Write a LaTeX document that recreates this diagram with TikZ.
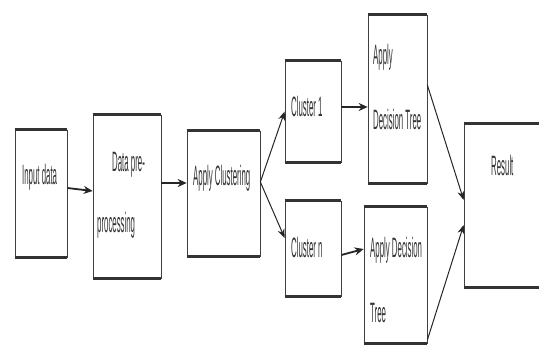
\documentclass[tikz,border=0pt]{standalone}
\usepackage{fontspec}
\newfontfamily\nf[FakeStretch=0.28]{Liberation Sans}
\usetikzlibrary{arrows.meta}
\begin{document}
\begin{tikzpicture}[x=1pt,y=-1pt,
  box/.style={draw=black!75, line width=0.7pt, inner sep=0pt},
  txt/.style={anchor=base west, inner sep=0pt, text=black!80, font=\nf\fontsize{28}{30}\selectfont},
  arr/.style={draw=black!85, line width=1.8pt, -{Stealth[length=9pt,width=8pt]}},
  arrt/.style={draw=black!85, line width=1pt, -{Stealth[length=9pt,width=7pt]}}]
\useasboundingbox (0,0) rectangle (539,347);
\fill[white] (0,0) rectangle (539,347);
% boxes
\node[box, minimum width=52pt, minimum height=127pt] (b1) at (41,193.5) {};
\node[box, minimum width=68pt, minimum height=163pt] (b2) at (127,196.5) {};
\node[box, minimum width=73pt, minimum height=125pt] (b3) at (223.5,193.5) {};
\node[box, minimum width=56pt, minimum height=101pt] (c1) at (313,111.5) {};
\node[box, minimum width=56pt, minimum height=95pt] (cn) at (313,248.5) {};
\node[box, minimum width=59pt, minimum height=168pt] (d1) at (397.5,99) {};
\node[box, minimum width=63pt, minimum height=136pt] (d2) at (395.5,275) {};
\node[box, minimum width=80pt, minimum height=163pt] (r) at (504,205.5) {};
\foreach \n in {b1,b2,b3,c1,cn,d1,d2,r}{
  \draw[line width=2.6pt, black!80] (\n.north west) -- (\n.north east);
  \draw[line width=2.6pt, black!80] (\n.south west) -- (\n.south east);
}
% texts
\node[txt] (t1) at (22,185) {Input data};
\node[txt] (t2a) at (112,172) {Data pre-};
\node[txt] (t2b) at (97,233) {processing};
\node[txt] (t3) at (193,186) {Apply Clustering};
\node[txt] (t4) at (291,117) {Cluster 1};
\node[txt] (t5) at (291,258) {Cluster n};
\node[txt] (t6a) at (373,65) {Apply};
\node[txt] (t6b) at (373,130) {Decision Tree};
\node[txt] (t7a) at (370,258) {Apply Decision};
\node[txt] (t7b) at (370,323) {Tree};
\node[txt] (t8) at (491,176) {Result};
% arrows
\draw[arr] ([yshift=5.5pt]b1.east) -- ([yshift=5.5pt]b2.west);
\draw[arr] ([yshift=13.5pt]b2.east) -- ([yshift=10.5pt]b3.west);
\draw[arrt] ([yshift=11.5pt]b3.east) -- (c1.west);
\draw[arrt] ([yshift=11.5pt]b3.east) -- ([yshift=10.5pt]cn.west);
\draw[arr] ([yshift=4.5pt]c1.east) -- ([yshift=-8pt]d1.west);
\draw[arr] ([yshift=-6.5pt]cn.east) -- ([yshift=26pt]d2.west);
\draw[arrt] ([yshift=14pt]d1.east) -- ([yshift=5.5pt]r.west);
\draw[arrt] ([yshift=-65pt]d2.east) -- ([yshift=-19.5pt]r.west);
\end{tikzpicture}
\end{document}
